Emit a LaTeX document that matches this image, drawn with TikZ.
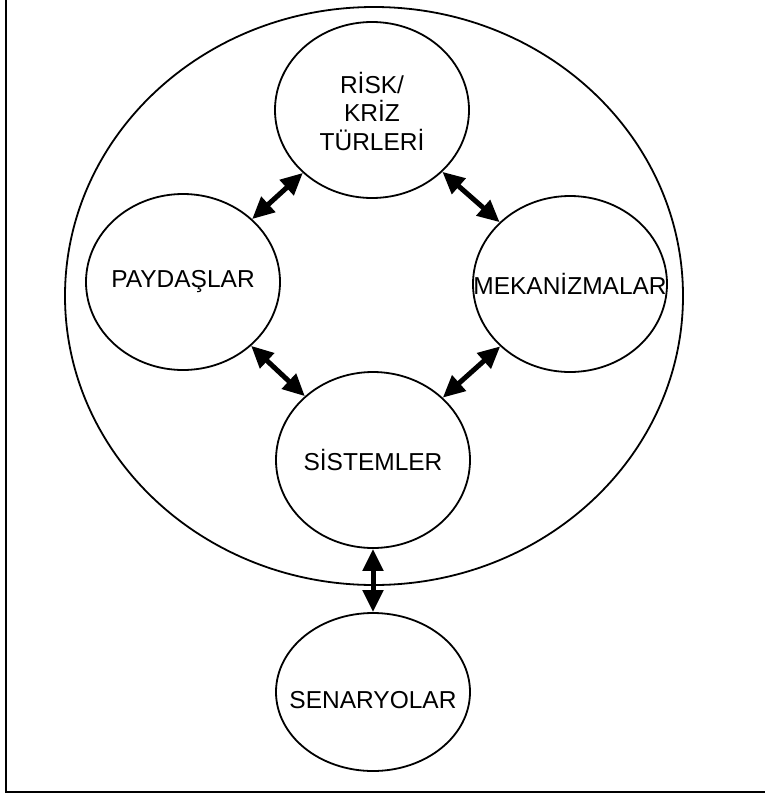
\documentclass[tikz,border=0pt]{standalone}
\usepackage{fontspec}
\setmainfont{Liberation Sans}
\usetikzlibrary{shapes.geometric,arrows.meta}
\begin{document}
\begin{tikzpicture}[x=1pt,y=-1pt,
  caption/.style={font=\fontsize{24.5}{28.5}\selectfont, align=center},
  bubble/.style={draw, ellipse, line width=1.8pt, inner sep=0pt,
    minimum width=194pt, minimum height=176pt},
  link/.style={line width=5pt,
    {Triangle[length=22pt,width=20pt]}-{Triangle[length=22pt,width=20pt]}}]
\useasboundingbox (0,0) rectangle (765,795);
% frame lines on the left and bottom
\draw[line width=2pt] (6,0) -- (6,792) -- (765,792);
% enclosing ellipse
\node[draw, ellipse, line width=1.8pt, inner sep=0pt,
  minimum width=618pt, minimum height=578pt] (outer) at (374,296) {};
% the five concept bubbles
\node[bubble, label={[caption, yshift=-1pt]center:RİSK/\\KRİZ\\TÜRLERİ}] (risk) at (372,110) {};
\node[bubble, label={[caption]center:PAYDAŞLAR}] (payd) at (183,282) {};
\node[bubble, label={[caption]center:MEKANİZMALAR}] (mek) at (570,284) {};
\node[bubble, label={[caption]center:SİSTEMLER}] (sis) at (373,460) {};
\node[bubble, minimum height=158pt, label={[caption, yshift=-8pt]center:SENARYOLAR}] (sen) at (373,692) {};
% two-way links
\draw[link] (risk) -- (payd);
\draw[link] (risk) -- (mek);
\draw[link] (payd) -- (sis);
\draw[link] (mek) -- (sis);
\draw[link] (sis) -- (sen);
\end{tikzpicture}
\end{document}
